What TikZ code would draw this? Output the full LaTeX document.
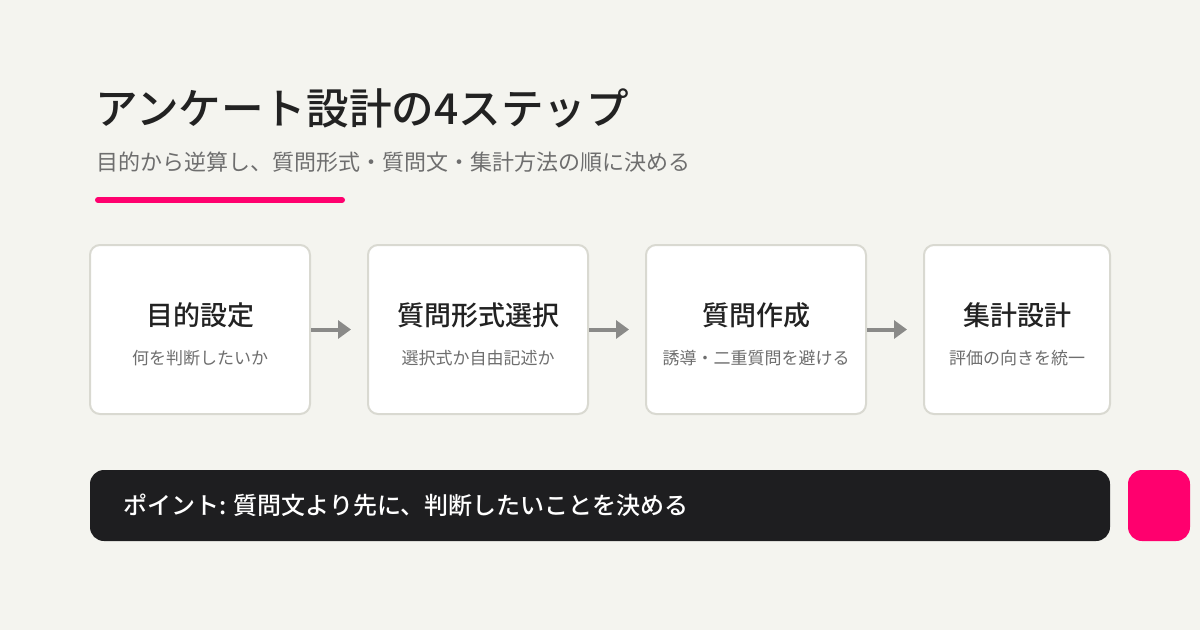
\documentclass[tikz,border=0pt]{standalone}
\usepackage{fontspec}
\setmainfont{Noto Sans CJK JP}
\newfontfamily\jp{Noto Sans CJK JP}
\newfontfamily\jpm{Noto Sans CJK JP Medium}
\usetikzlibrary{arrows.meta}
\definecolor{bg}{HTML}{F4F4EF}
\definecolor{bord}{HTML}{D9D9D1}
\definecolor{ink}{HTML}{222222}
\definecolor{sub}{HTML}{6E6E6E}
\definecolor{pink}{HTML}{FF006E}
\definecolor{dark}{HTML}{1E1E20}
\definecolor{arrg}{HTML}{8A8A88}
\tikzset{
  stepbox/.style={draw=bord, line width=2pt, fill=white, rounded corners=10pt, minimum height=169pt, inner sep=0pt},
  steptitle/.style={font=\jpm\fontsize{27}{31}\selectfont, text=ink, inner sep=0pt},
  stepsub/.style={font=\jp\fontsize{17}{20}\selectfont, text=sub, inner sep=0pt},
  flowarr/.style={draw=arrg, line width=4pt, -{Triangle[length=13pt,width=18pt]}, shorten >=16pt},
}
\begin{document}
\begin{tikzpicture}[x=1pt,y=-1pt]
\fill[bg] (0,0) rectangle (1200,630);
\useasboundingbox (0,0) rectangle (1200,630);
\node[anchor=west, inner sep=0pt, font=\jpm\fontsize{42.6}{50}\selectfont, text=ink] (title) at (95,108) {アンケート設計の4ステップ};
\node[anchor=west, inner sep=0pt, font=\jp\fontsize{22}{26}\selectfont, text=sub] (subtitle) at (96,162) {目的から逆算し、質問形式・質問文・集計方法の順に決める};
\coordinate (ul1) at (98,200);
\coordinate (ul2) at (342,200);
\draw[pink, line width=6pt, line cap=round] (ul1) -- (ul2);

\node[stepbox, minimum width=220pt] (b1) at (200,329.5) {};
\node[stepbox, minimum width=220pt] (b2) at (478,329.5) {};
\node[stepbox, minimum width=220pt] (b3) at (756,329.5) {};
\node[stepbox, minimum width=186pt] (b4) at (1017,329.5) {};

\node[steptitle] (t1) at (200,315) {目的設定};
\node[stepsub] (s1) at (200,358) {何を判断したいか};
\node[steptitle] (t2) at (478,315) {質問形式選択};
\node[stepsub] (s2) at (478,358) {選択式か自由記述か};
\node[steptitle] (t3) at (756,315) {質問作成};
\node[stepsub] (s3) at (756,358) {誘導・二重質問を避ける};
\node[steptitle] (t4) at (1017,315) {集計設計};
\node[stepsub] (s4) at (1017,358) {評価の向きを統一};

\draw[flowarr] (b1.east) -- (b2.west);
\draw[flowarr] (b2.east) -- (b3.west);
\draw[flowarr] (b3.east) -- (b4.west);

\node[fill=dark, rounded corners=14pt, minimum width=1020pt, minimum height=71pt, inner sep=0pt] (bar) at (600,505.5) {};
\node[anchor=west, inner sep=0pt, font=\jpm\fontsize{24}{28}\selectfont, text=white] (point) at (123,505) {ポイント: 質問文より先に、判断したいことを決める};
\node[fill=pink, rounded corners=14pt, minimum width=62pt, minimum height=71pt, inner sep=0pt] (accent) at (1159,505.5) {};
\end{tikzpicture}
\end{document}
